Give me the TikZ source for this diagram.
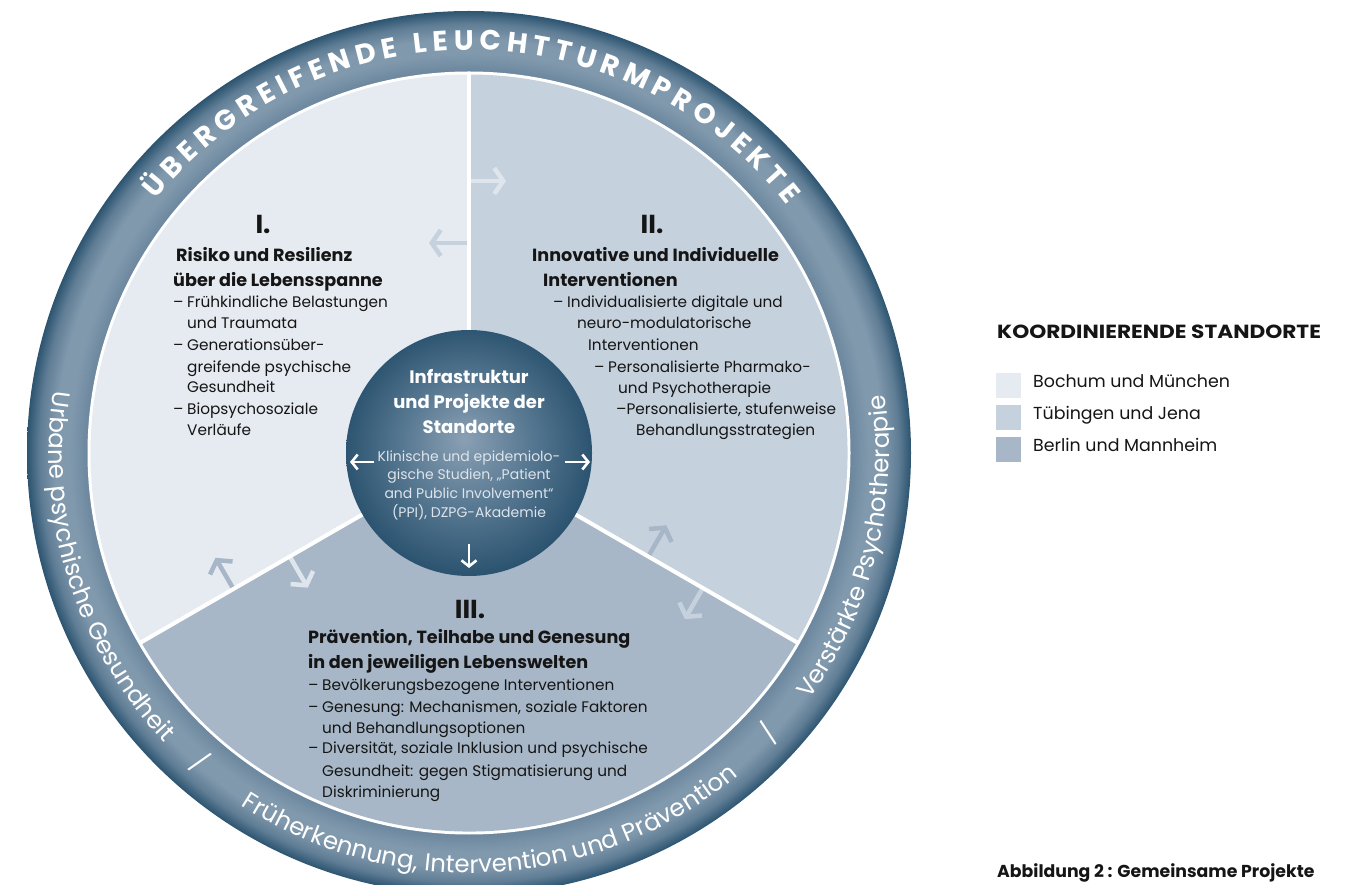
\documentclass[tikz,border=0pt]{standalone}
\usepackage{fontspec}
\setmainfont{Poppins}
\usetikzlibrary{arrows.meta,decorations.text,calc}
\definecolor{secI}{HTML}{E6EAF1}
\definecolor{secII}{HTML}{C5D1DD}
\definecolor{secIII}{HTML}{A7B7C7}
\definecolor{arrI}{HTML}{DFE5ED}
\definecolor{ringdark}{HTML}{2C5470}
\definecolor{ringmid}{HTML}{6A869D}
\definecolor{ringlight}{HTML}{8199AD}
\definecolor{ringmidb}{HTML}{5F7D95}
\definecolor{hubdark}{HTML}{2C5470}
\definecolor{hubmid}{HTML}{5B7B94}
\definecolor{hublight}{HTML}{8AA0B4}
\definecolor{ink}{HTML}{151515}
\definecolor{hubsmall}{HTML}{DDE4EA}
\pgfdeclareradialshading{ringshade}{\pgfpoint{0bp}{0bp}}{color(0bp)=(ringmid); color(21.5bp)=(ringmid); color(22.6bp)=(ringlight); color(23.4bp)=(ringlight); color(24.3bp)=(ringmidb); color(25bp)=(ringdark); color(30bp)=(ringdark)}
\pgfdeclareradialshading{hubshade}{\pgfpoint{-1bp}{3bp}}{color(0bp)=(hublight); color(12bp)=(hubmid); color(25bp)=(hubdark); color(30bp)=(hubdark)}
\newcommand\ringfont{\fontsize{24.5}{26}\selectfont}
\newcommand\topfont{\bfseries\fontsize{28}{30}\selectfont}
\newcommand\itemdash{\makebox[14pt][l]{–}}
\begin{document}
\begin{tikzpicture}[x=1pt,y=1pt,
  body/.style={font=\fontsize{15.3}{18}\selectfont, text=ink, anchor=base west, inner sep=0pt},
  head/.style={font=\bfseries\fontsize{17.6}{20}\selectfont, text=ink, anchor=base west, inner sep=0pt},
  numeral/.style={font=\bfseries\fontsize{26}{28}\selectfont, text=ink, anchor=base, inner sep=0pt},
  hubhead/.style={font=\bfseries\fontsize{18}{20}\selectfont, text=white, anchor=base, inner sep=0pt},
  hubbody/.style={font=\fontsize{14}{16}\selectfont, text=hubsmall, anchor=base, inner sep=0pt},
  sarrow/.style={line width=4.5pt, -{Straight Barb[length=9pt,width=26pt]}},
  harrow/.style={white, line width=2.6pt, -{Straight Barb[length=6pt,width=15pt]}},
  divider/.style={white, line width=4pt},
  legsq/.style={minimum size=25pt, inner sep=0pt, draw=none},
  legtxt/.style={font=\fontsize{17.4}{20}\selectfont, text=ink, anchor=base west, inner sep=0pt},
  ringtxt/.style={decorate, decoration={text along path, text color=white, text align=center, text={#1}}},
  toptxt/.style={decorate, decoration={text along path, text color=white, text align={fit to path}, text={#1}}},
  sep/.style={text=white, font=\ringfont, inner sep=0pt}
]
\useasboundingbox (0,0) rectangle (1347,884);
\clip (0,0) rectangle (1347,884);
\coordinate (C) at (469,431);

% ring
\shade[shading=ringshade] (C) circle[radius=442];
\fill[white] (C) circle[radius=381.5];

% sectors
\fill[secI] (C) -- ($(C)+(90:378.5)$) arc[start angle=90, end angle=210, radius=378.5] -- cycle;
\fill[secII] (C) -- ($(C)+(-30:378.5)$) arc[start angle=-30, end angle=90, radius=378.5] -- cycle;
\fill[secIII] (C) -- ($(C)+(210:378.5)$) arc[start angle=210, end angle=330, radius=378.5] -- cycle;

% exchange arrows
\coordinate (t1s) at ($(C)+(90:272)$); \coordinate (t1e) at ($(t1s)+(0:37)$);
\coordinate (t2s) at ($(C)+(90:210)$); \coordinate (t2e) at ($(t2s)+(180:40)$);
\coordinate (l1s) at ($(C)+(210:272)$); \coordinate (l1e) at ($(l1s)+(120:36)$);
\coordinate (l2s) at ($(C)+(210:207)$); \coordinate (l2e) at ($(l2s)+(300:36)$);
\coordinate (r1s) at ($(C)+(330:207)$); \coordinate (r1e) at ($(r1s)+(60:36)$);
\coordinate (r2s) at ($(C)+(330:270)$); \coordinate (r2e) at ($(r2s)+(240:36)$);
\draw[sarrow, arrI] (t1s) -- (t1e);
\draw[sarrow, secII] (t2s) -- (t2e);
\draw[sarrow, secIII] (l1s) -- (l1e);
\draw[sarrow, arrI] (l2s) -- (l2e);
\draw[sarrow, secIII] (r1s) -- (r1e);
\draw[sarrow, secII] (r2s) -- (r2e);

% dividers
\coordinate (dv1) at ($(C)+(90:381)$);
\coordinate (dv2) at ($(C)+(210:381)$);
\coordinate (dv3) at ($(C)+(330:381)$);
\draw[divider] (C) -- (dv1);
\draw[divider] (C) -- (dv2);
\draw[divider] (C) -- (dv3);

% hub
\node[circle, minimum size=246pt, inner sep=0pt, shading=hubshade] (hub) at (C) {};
\coordinate (hls) at (374,422); \coordinate (hle) at (350,422);
\coordinate (hrs) at (565,422); \coordinate (hre) at (590,422);
\coordinate (hds) at (469,340); \coordinate (hde) at (469,316);
\draw[harrow] (hls) -- (hle);
\draw[harrow] (hrs) -- (hre);
\draw[harrow] (hds) -- (hde);
\node[hubhead] (h1) at (469,500.5) {Infrastruktur};
\node[hubhead] (h2) at (469,475.5) {und Projekte der};
\node[hubhead] (h3) at (469,450.5) {Standorte};
\node[hubbody] (h4) at (469,422) {Klinische und epidemiolo-};
\node[hubbody] (h5) at (469,404) {gische Studien, „Patient};
\node[hubbody] (h6) at (469,385) {and Public Involvement“};
\node[hubbody] (h7) at (469,366) {(PPI), DZPG-Akademie};

% ring texts
\path[toptxt={|\topfont|ÜBERGREIFENDE LEUCHTTURMPROJEKTE}] ($(C)+(141:403)$) arc[start angle=141, end angle=38, radius=403];
\path[ringtxt={|\ringfont|Urbane psychische Gesundheit}] ($(C)+(155:420)$) arc[start angle=155, end angle=240, radius=420];
\path[ringtxt={|\ringfont|Früherkennung, Intervention und Prävention}] ($(C)+(220:420)$) arc[start angle=220, end angle=327, radius=420];
\path[ringtxt={|\ringfont|Verstärkte Psychotherapie}] ($(C)+(305:420)$) arc[start angle=305, end angle=387, radius=420];
\node[sep, rotate=319] (sl1) at ($(C)+(229:410)$) {/};
\node[sep, rotate=47] (sl2) at ($(C)+(317:410)$) {/};

% sector I
\node[numeral] (s1num) at (263,650) {I.};
\node[head] (s1h1) at (176,622.5) {Risiko und Resilienz};
\node[head] (s1h2) at (173,597.5) {über die Lebensspanne};
\node[body] (s1i1) at (173,576.5) {\itemdash Frühkindliche Belastungen};
\node[body] (s1i2) at (187,555.5) {und Traumata};
\node[body] (s1i3) at (173,533.5) {\itemdash Generationsüber-};
\node[body] (s1i4) at (187,511.5) {greifende psychische};
\node[body] (s1i5) at (187,491.5) {Gesundheit};
\node[body] (s1i6) at (173,469.5) {\itemdash Biopsychosoziale};
\node[body] (s1i7) at (187,448.5) {Verläufe};

% sector II
\node[numeral] (s2num) at (652,650) {II.};
\node[head] (s2h1) at (532,622.5) {Innovative und Individuelle};
\node[head] (s2h2) at (543,597.5) {Interventionen};
\node[body] (s2i1) at (553,576.5) {\itemdash Individualisierte digitale und};
\node[body] (s2i2) at (577,555.5) {neuro-modulatorische};
\node[body] (s2i3) at (588,533.5) {Interventionen};
\node[body] (s2i4) at (594,511.5) {\itemdash Personalisierte Pharmako-};
\node[body] (s2i5) at (618,490.5) {und Psychotherapie};
\node[body] (s2i6) at (616,469.5) {–Personalisierte, stufenweise};
\node[body] (s2i7) at (636,448.5) {Behandlungsstrategien};

% sector III
\node[numeral] (s3num) at (470,265) {III.};
\node[head] (s3h1) at (308,240.5) {Prävention, Teilhabe und Genesung};
\node[head] (s3h2) at (308,215.5) {in den jeweiligen Lebenswelten};
\node[body] (s3i1) at (308,193.5) {\itemdash Bevölkerungsbezogene Interventionen};
\node[body] (s3i2) at (308,171.5) {\itemdash Genesung: Mechanismen, soziale Faktoren};
\node[body] (s3i3) at (322,150.5) {und Behandlungsoptionen};
\node[body] (s3i4) at (308,130.5) {\itemdash Diversität, soziale Inklusion und psychische};
\node[body] (s3i5) at (322,107.5) {Gesundheit: gegen Stigmatisierung und};
\node[body] (s3i6) at (322,86.5) {Diskriminierung};

% legend
\node[font=\bfseries\fontsize{19}{21}\selectfont, text=ink, anchor=base west, inner sep=0pt] (lt) at (997,545) {\scalebox{1.14}[1]{KOORDINIERENDE STANDORTE}};
\node[legsq, fill=secI] (q1) at (1008.5,498.5) {};
\node[legsq, fill=secII] (q2) at (1008.5,466.5) {};
\node[legsq, fill=secIII] (q3) at (1008.5,434.5) {};
\node[legtxt] (q1t) at (1033,496.5) {Bochum und München};
\node[legtxt] (q2t) at (1033,464.5) {Tübingen und Jena};
\node[legtxt] (q3t) at (1033,432.5) {Berlin und Mannheim};
\node[font=\bfseries\fontsize{17.3}{19}\selectfont, text=ink, anchor=base west, inner sep=0pt] (cap) at (997,7) {Abbildung 2 : Gemeinsame Projekte};
\end{tikzpicture}
\end{document}
